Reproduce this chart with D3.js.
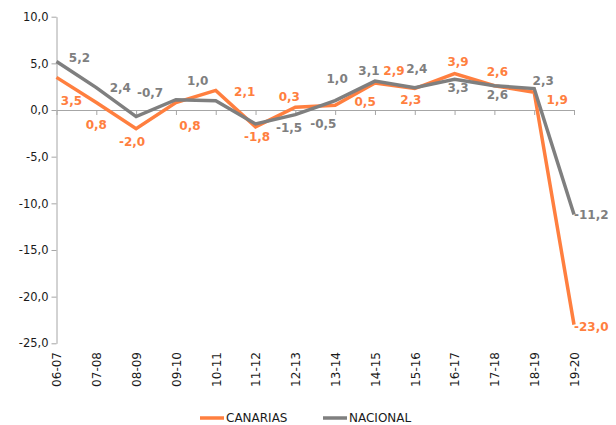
<!DOCTYPE html>
<html>
<head>
<meta charset="utf-8">
<script src="https://cdn.jsdelivr.net/npm/d3@7/dist/d3.min.js"></script>
<style>
  html, body { margin: 0; padding: 0; background: #fff; }
  svg { display: block; font-family: "DejaVu Sans", Verdana, sans-serif; }
</style>
</head>
<body>
<svg id="chart" width="616" height="425"></svg>
<script>
// ---- data ----
const categories = ["06-07","07-08","08-09","09-10","10-11","11-12","12-13","13-14","14-15","15-16","16-17","17-18","18-19","19-20"];
const canarias = [3.5, 0.8, -2.0, 0.8, 2.1, -1.8, 0.3, 0.5, 2.9, 2.3, 3.9, 2.6, 1.9, -23.0];
const nacional = [5.2, 2.4, -0.7, 1.1, 1.0, -1.5, -0.5, 1.0, 3.1, 2.4, 3.3, 2.6, 2.3, -11.2];
const yTicks = [-25, -20, -15, -10, -5, 0, 5, 10];
const seriesNames = ["CANARIAS", "NACIONAL"];

// ---- label placement (style, not data): [dx, dy] from point, null = hidden ----
const canariasLabelPos = [[15,24],[0,22.5],[-4,13.5],[14,23.5],[29,1.5],[1.5,10],[-6,-10],[30,-3],[19,-12],[-4,11.5],[3.5,-11.5],[3,-13.5],[23,7.5],["end",2]];
const nacionalLabelPos = [[23,-3.5],[24,0.5],[14,-23.5],null,[-18,-19.5],[33.5,4],[28,9.5],[2,-21.5],[-6,-10],[2,-18.5],[3.5,9],[3,9.5],[9,-7.5],["end",0.5]];

const ORANGE = "#FF7F3F";
const GRAY = "#7F7F7F";
const AXIS = "#A6A6A6";

const svg = d3.select("#chart");
const x = d3.scalePoint().domain(categories).range([56.5, 574]).padding(0);
const y = d3.scaleLinear().domain([-25, 10]).range([343.3, 16.7]);
const fmt = d => d.toFixed(1).replace(".", ",");

// y axis
const gy = svg.append("g").attr("transform", "translate(56.5,0)")
  .call(d3.axisLeft(y).tickValues(yTicks).tickFormat(fmt).tickSize(5).tickSizeOuter(0));
gy.select(".domain").attr("stroke", AXIS);
gy.selectAll(".tick line").attr("stroke", AXIS);
gy.selectAll(".tick text").attr("font-size", 11.5).attr("fill", "#1a1a1a")
  .attr("font-family", "DejaVu Sans, Verdana, sans-serif").attr("x", -8);

// x axis at zero
const gx = svg.append("g").attr("transform", `translate(0,${y(0)})`)
  .call(d3.axisBottom(x).tickSize(5).tickSizeOuter(0).tickFormat(""));
gx.select(".domain").attr("stroke", AXIS);
gx.selectAll(".tick line").attr("stroke", AXIS);

// x labels at bottom
const gxl = svg.append("g").attr("transform", "translate(0,349)")
  .call(d3.axisBottom(x).tickSize(0).tickPadding(0));
gxl.select(".domain").remove();
gxl.selectAll(".tick text")
  .attr("font-size", 12).attr("fill", "#1a1a1a")
  .attr("font-family", "DejaVu Sans, Verdana, sans-serif")
  .attr("transform", "rotate(-90)")
  .attr("x", -3).attr("y", 0).attr("dy", "0.36em")
  .style("text-anchor", "end");

// lines
const line = d3.line().x((d, i) => x(categories[i])).y(d => y(d));
const lineLayer = svg.append("g");
const labelLayer = svg.append("g");
function drawSeries(values, color, pos) {
  lineLayer.append("path").datum(values)
    .attr("fill", "none").attr("stroke", color).attr("stroke-width", 3.5)
    .attr("stroke-linejoin", "miter").attr("d", line);
  const pts = values.map((v, i) => ({v, i, p: pos[i]})).filter(d => d.p !== null);
  labelLayer.append("g").selectAll("text").data(pts).join("text")
    .attr("x", d => x(categories[d.i]) + (d.p[0] === "end" ? 0 : d.p[0]))
    .attr("y", d => y(d.v) + d.p[1])
    .attr("dominant-baseline", "central")
    .attr("text-anchor", d => d.p[0] === "end" ? "start" : "middle")
    .attr("font-size", 12).attr("font-weight", "bold").attr("fill", color)
    .text(d => fmt(d.v));
}
drawSeries(canarias, ORANGE, canariasLabelPos);
drawSeries(nacional, GRAY, nacionalLabelPos);

// legend
const legend = [{name: seriesNames[0], color: ORANGE, x: 200}, {name: seriesNames[1], color: GRAY, x: 323}];
const lg = svg.append("g");
legend.forEach(l => {
  lg.append("line").attr("x1", l.x).attr("x2", l.x + 24).attr("y1", 418).attr("y2", 418)
    .attr("stroke", l.color).attr("stroke-width", 3.5);
  lg.append("text").attr("x", l.x + 26).attr("y", 418).attr("dominant-baseline", "central")
    .attr("font-size", 12).attr("fill", "#1a1a1a").text(l.name);
});
</script>
</body>
</html>
